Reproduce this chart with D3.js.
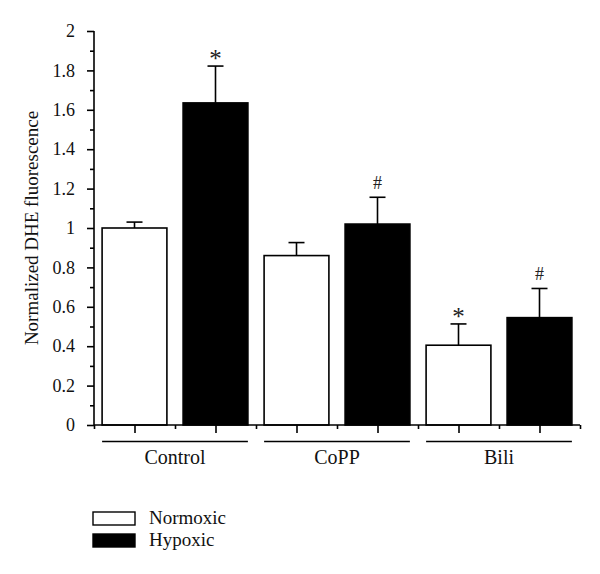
<!DOCTYPE html>
<html>
<head>
<meta charset="utf-8">
<script src="https://cdn.jsdelivr.net/npm/d3@7"></script>
<style>
  html, body { margin: 0; padding: 0; background: #fff; }
  svg { display: block; font-family: "Liberation Serif", "DejaVu Serif", serif; }
</style>
</head>
<body>
<div id="chart"></div>
<script>
// ---- data ----
const categories = ["Control", "CoPP", "Bili"];
const seriesNames = ["Normoxic", "Hypoxic"];
const normoxic = [1.00, 0.86, 0.405];
const hypoxic = [1.635, 1.02, 0.545];
const normoxicErr = [0.03, 0.066, 0.108];
const hypoxicErr = [0.187, 0.136, 0.148];
const normoxicMarks = ["", "", "*"];
const hypoxicMarks = ["*", "#", "#"];
const yTickValues = [0, 0.2, 0.4, 0.6, 0.8, 1, 1.2, 1.4, 1.6, 1.8, 2];
const yTickLabels = ["0", "0.2", "0.4", "0.6", "0.8", "1", "1.2", "1.4", "1.6", "1.8", "2"];
const yTitle = "Normalized DHE fluorescence";

// ---- layout ----
const W = 600, H = 574;
const x0 = 94, x1 = 580, yTop = 31, yBot = 425;
const fills = { Normoxic: "#ffffff", Hypoxic: "#000000" };

const svg = d3.select("#chart").append("svg").attr("width", W).attr("height", H);

const y = d3.scaleLinear().domain([0, 2]).range([yBot, yTop]);
const xGroup = d3.scaleBand().domain(categories).range([x0, x1]).padding(0);
const xInner = d3.scaleBand().domain(seriesNames).range([0, xGroup.bandwidth()])
  .paddingInner(0.2).paddingOuter(0.1);

const rows = [];
categories.forEach((c, i) => {
  rows.push({ cat: c, s: "Normoxic", v: normoxic[i], e: normoxicErr[i], m: normoxicMarks[i] });
  rows.push({ cat: c, s: "Hypoxic", v: hypoxic[i], e: hypoxicErr[i], m: hypoxicMarks[i] });
});
const bx = d => xGroup(d.cat) + xInner(d.s);
const cx = d => bx(d) + xInner.bandwidth() / 2;

// error bars (behind bars)
const eb = svg.append("g").attr("stroke", "#000").attr("stroke-width", 1.6);
rows.forEach(d => {
  eb.append("line").attr("x1", cx(d)).attr("x2", cx(d)).attr("y1", y(d.v)).attr("y2", y(d.v + d.e));
  eb.append("line").attr("x1", cx(d) - 8).attr("x2", cx(d) + 8).attr("y1", y(d.v + d.e)).attr("y2", y(d.v + d.e));
});

// bars
svg.append("g").selectAll("rect").data(rows).join("rect")
  .attr("x", bx).attr("width", xInner.bandwidth())
  .attr("y", d => y(d.v)).attr("height", d => y(0) - y(d.v))
  .attr("fill", d => fills[d.s]).attr("stroke", "#000").attr("stroke-width", 1.6);

// significance marks
svg.append("g").selectAll("text").data(rows.filter(d => d.m)).join("text")
  .attr("x", cx)
  .attr("y", d => y(d.v + d.e) - (d.m === "*" ? -1 : 8))
  .attr("text-anchor", "middle")
  .attr("font-size", d => d.m === "*" ? 25 : 18)
  .attr("fill", "#222")
  .text(d => d.m);

// y axis
const yAxisMajor = d3.axisLeft(y).tickValues(yTickValues).tickSize(7).tickPadding(12)
  .tickFormat((d, i) => yTickLabels[i]);
const gy = svg.append("g").attr("transform", `translate(${x0},0)`).call(yAxisMajor);
gy.select(".domain").attr("d", `M0,${yBot}V${yTop}`);
const minor = d3.range(1, 20, 2).map(v => v / 10);
svg.append("g").attr("transform", `translate(${x0},0)`)
  .call(d3.axisLeft(y).tickValues(minor).tickSize(4).tickFormat(""))
  .select(".domain").remove();

// x axis: bar-center (long) and boundary (short) ticks
const xl = d3.scaleLinear().domain([0, 6]).range([x0, x1]);
const gx = svg.append("g").attr("transform", `translate(0,${yBot})`)
  .call(d3.axisBottom(xl).tickValues(d3.range(0, 7)).tickSize(4).tickFormat(""));
gx.select(".domain").attr("d", `M${x0},0H${x1}`);
svg.append("g").attr("transform", `translate(0,${yBot})`)
  .call(d3.axisBottom(xl).tickValues(d3.range(0.5, 6, 1)).tickSize(8).tickFormat(""))
  .select(".domain").remove();

svg.selectAll(".domain, .tick line").attr("stroke", "#000").attr("stroke-width", 1.6);
svg.selectAll(".tick text").attr("font-family", "Liberation Serif, serif").attr("font-size", 18).attr("fill", "#111");

// group lines and labels
const grp = svg.append("g");
categories.forEach(c => {
  const l = xGroup(c) + xInner("Normoxic");
  const r = xGroup(c) + xInner("Hypoxic") + xInner.bandwidth();
  grp.append("line").attr("x1", l).attr("x2", r).attr("y1", 441.5).attr("y2", 441.5)
    .attr("stroke", "#000").attr("stroke-width", 1.6);
  grp.append("text").attr("x", (l + r) / 2).attr("y", 464).attr("text-anchor", "middle")
    .attr("font-size", 20).attr("fill", "#111").text(c);
});

// y title
svg.append("text").attr("transform", `translate(38,${(yTop + yBot) / 2}) rotate(-90)`)
  .attr("text-anchor", "middle").attr("font-size", 19).attr("fill", "#111").text(yTitle);

// legend
const lg = svg.append("g");
seriesNames.forEach((s, i) => {
  const yy = 512 + i * 22;
  lg.append("rect").attr("x", 93).attr("y", yy).attr("width", 42).attr("height", 13)
    .attr("fill", fills[s]).attr("stroke", "#000").attr("stroke-width", 1.4);
  lg.append("text").attr("x", 149).attr("y", yy + 11.5).attr("font-size", 19).attr("fill", "#111").text(s);
});
</script>
</body>
</html>
